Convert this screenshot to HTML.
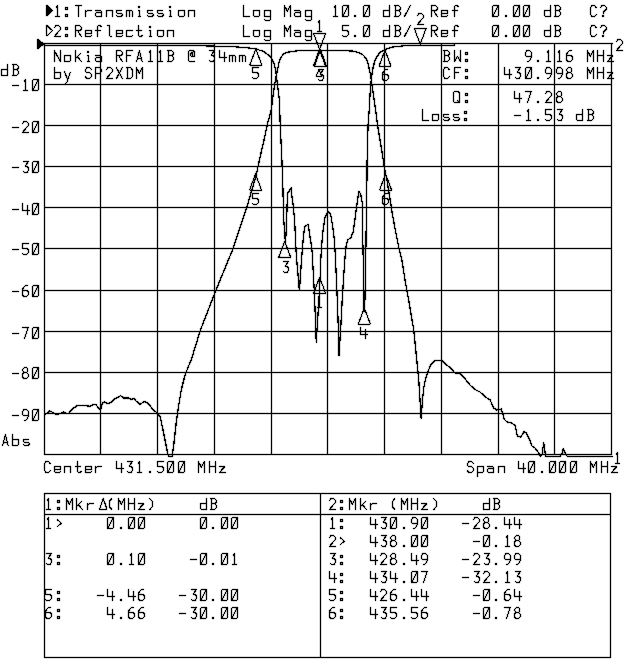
<!DOCTYPE html>
<html><head><meta charset="utf-8"><title>Network analyzer plot</title>
<style>
html,body{margin:0;padding:0;background:#fff;}
body{width:640px;height:659px;overflow:hidden;font-family:"Liberation Mono",monospace;}
svg{display:block;}
.t{fill:none;stroke:#000;stroke-width:1.0;stroke-linecap:square;stroke-linejoin:round;shape-rendering:crispEdges;}
.f{fill:#000;stroke:none;shape-rendering:crispEdges;}
.h{font-family:"Liberation Mono",monospace;font-size:17px;fill:#000;fill-opacity:0;stroke:none;}
</style></head><body>
<svg width="640" height="659" viewBox="0 0 640 659">
<defs><filter id="soft" x="0" y="0" width="640" height="659" filterUnits="userSpaceOnUse" color-interpolation-filters="sRGB"><feConvolveMatrix order="3" kernelMatrix="0.02 0.1 0.02 0.1 1 0.1 0.02 0.1 0.02" divisor="1" bias="-0.48" edgeMode="duplicate" preserveAlpha="true"/></filter></defs>
<g filter="url(#soft)">
<rect x="0" y="0" width="640" height="659" fill="#fff"/>
<g fill="#000" shape-rendering="crispEdges">
<rect x="44" y="43" width="1" height="412"/>
<rect x="100" y="43" width="1" height="412"/>
<rect x="157" y="43" width="1" height="412"/>
<rect x="214" y="43" width="1" height="412"/>
<rect x="271" y="43" width="1" height="412"/>
<rect x="327" y="43" width="1" height="412"/>
<rect x="384" y="43" width="1" height="412"/>
<rect x="441" y="43" width="1" height="412"/>
<rect x="498" y="43" width="1" height="412"/>
<rect x="554" y="43" width="1" height="412"/>
<rect x="611" y="43" width="1" height="412"/>
<rect x="44" y="43" width="568" height="1"/>
<rect x="44" y="84" width="568" height="1"/>
<rect x="44" y="125" width="568" height="1"/>
<rect x="44" y="166" width="568" height="1"/>
<rect x="44" y="207" width="568" height="1"/>
<rect x="44" y="248" width="568" height="1"/>
<rect x="44" y="290" width="568" height="1"/>
<rect x="44" y="331" width="568" height="1"/>
<rect x="44" y="372" width="568" height="1"/>
<rect x="44" y="413" width="568" height="1"/>
<rect x="44" y="454" width="568" height="1"/>
<rect x="44" y="493" width="567" height="1"/>
<rect x="44" y="657" width="567" height="1"/>
<rect x="44" y="514" width="567" height="1"/>
<rect x="44" y="493" width="1" height="165"/>
<rect x="320" y="493" width="1" height="165"/>
<rect x="610" y="493" width="1" height="165"/>
</g>
<path d="M44.5 414.5 L47 413 L49.5 411 L52 412 L55 414 L58.75 414 L61.25 413 L63.75 412 L66.25 413.75 L68.75 413.25 L72.5 408.75 L77.5 405.5 L83.75 405.5 L90 406.25 L93.75 404.5 L96.25 405 L99.5 409.5 L100.75 410 L102.5 402.5 L104.5 402 L107.5 403.75 L110 403 L115 398.75 L120.5 395.75 L123.75 398 L128.75 398 L131.25 399.5 L133.75 398.25 L136.25 401.25 L140 404.5 L144.5 401.25 L147.5 403 L152.5 408.75 L157 413 L160 416.25 L162.5 427.5 L165 440 L167.5 452.5 L168.75 456.5 L172 456.5 L173.75 445 L176.25 422.5 L178.75 405 L181.25 390 L185 375 L190 362.5 L191.25 360 L200 331.25 L215 292.5 L232.5 250 L247.5 205 L256.25 175 L260 157.5 L263.75 141.25 L267.5 123.75 L271.2 110 L273.1 95 L275 82.5 L276.9 72.5 L278.75 63.75 L280.6 58.1 L283.1 54.4 L286.25 52.6 L291.25 51.5 L300 50.55 L340 50.55 L352.5 51 L358.75 52.6 L363.1 55 L366.25 58.75 L368.1 63.75 L370 72.5 L371.25 80 L373.1 92.5 L374.5 102.5 L375.6 110 L377.5 125 L381.25 147.5 L384.4 167.5 L386.9 180 L390 198.75 L392.5 215 L396.25 235 L399.4 250 L401.9 260 L405 280 L409 302 L413.75 330 L416.25 355 L418.75 380 L421.2 418.4 L422.5 400 L423.75 387.5 L425.3 380 L427.5 372.5 L431.25 363.75 L435 360.75 L442.5 360.75 L446.25 364.5 L451.25 368.75 L455 373 L460 373 L465 378.75 L470 385 L475 389.5 L480 392 L486.25 397.6 L490 399.8 L493.75 408 L496.6 410 L501.25 409 L502.5 412.5 L504.4 419.5 L506.6 421.7 L510.9 422.9 L515 425 L517.4 436 L520.8 437 L524 431.6 L526.25 432.7 L529.5 439.2 L531.7 445.8 L535 448 L538.3 452.4 L540.5 456.5 L542 454.5 L543.75 442.5 L545.3 454.5 L546 456.5 L560.2 456.5 L562 453.4 L563.4 448.6 L565.2 453.4 L567.4 456.5 L612 456.5" fill="none" stroke="#000" stroke-width="1.25" stroke-linejoin="round" stroke-linecap="round" shape-rendering="crispEdges"/>
<path d="M44.5 45.5 L180 45.5 L203.4 45.8 L214.4 46.1 L234.7 46.8 L247.2 47.8 L256.6 49 L260 50.4 L263.75 51.25 L267.5 54.4 L271.25 58 L273.75 62.5 L275.6 70 L276.9 80 L278 88.75 L279.4 100 L279.7 110 L280.25 125 L281 141.25 L281.9 160 L282.5 176 L283.1 195 L283.75 220 L285 237 L285.4 243 L286.25 230 L286.9 211.25 L287.5 193.75 L289.4 190.6 L291.25 188 L291.9 196.25 L293.1 205 L294.4 217.5 L295.4 235 L296.25 255 L299.4 290.6 L300.5 275 L301.5 260 L302.5 247 L303.75 233.75 L305 226.25 L308.1 224.4 L309.4 232.5 L311.25 245 L312.2 253 L314.5 295 L316.25 342.5 L318.9 300 L320 280 L320.9 258 L321.9 242.5 L323.1 230 L325 217.5 L328.1 211.25 L330.6 214.4 L332.5 225 L334.4 239.5 L335.3 255 L336.9 290 L338.4 330 L338.9 355.6 L340.6 330 L342.2 300 L343.75 275 L345.2 255 L345.9 247.5 L347.5 240 L350.6 238.1 L353.1 232.5 L355 218.75 L356.9 205 L358.75 191.25 L360.6 193.75 L362.25 202.5 L362.5 223.75 L362.9 245 L363.3 262 L363.8 292 L364.2 311.5 L364.6 311.5 L365.1 292 L365.7 258 L366.1 235 L366.45 205 L366.9 180 L367.25 150 L368.1 125 L369.4 107.5 L370 95 L371.25 80 L372.5 70 L374.4 62.5 L376.25 57.5 L380 52.5 L384.4 50 L391.25 47.2 L404.4 45.7 L412 45.5 L454.4 45.5 L455.2 43.6 L612 43.6" fill="none" stroke="#000" stroke-width="1.25" stroke-linejoin="round" stroke-linecap="round" shape-rendering="crispEdges"/>
<path d="M319.6 49.2 L313.6 33.7 L325.6 33.7 Z" fill="none" stroke="#000" stroke-width="1.0" stroke-linejoin="round" stroke-linecap="round" shape-rendering="crispEdges"/>
<text class="h" x="314.5" y="31.6" textLength="10.3" xml:space="preserve">1</text>
<path class="t" d="M317.93 22.86 L319.82 20.7 L319.82 31.5M317.93 31.5 L321.73 31.5"/>
<path d="M319.5 49.5 L313.5 66 L325.5 66 Z" fill="none" stroke="#000" stroke-width="1.0" stroke-linejoin="round" stroke-linecap="round" shape-rendering="crispEdges"/>
<path d="M320.5 49.5 L314.5 66 L326.5 66 Z" fill="none" stroke="#000" stroke-width="1.0" stroke-linejoin="round" stroke-linecap="round" shape-rendering="crispEdges"/>
<text class="h" x="316.2" y="81" textLength="10.3" xml:space="preserve">3</text>
<path class="t" d="M318.26 69.7 L323.2 69.7 L320.35 74.24 L321.87 74.24 L323.2 75.75 L323.2 78.99 L321.87 80.5 L319.4 80.5 L318.26 79.2"/>
<path d="M316 76.5 L319 69.5 L322 76.5 Z" fill="none" stroke="#000" stroke-width="1.0" stroke-linejoin="round" stroke-linecap="round" shape-rendering="crispEdges"/>
<path d="M255.5 174 L249.5 190 L261.5 190 Z" fill="none" stroke="#000" stroke-width="1.0" stroke-linejoin="round" stroke-linecap="round" shape-rendering="crispEdges"/>
<text class="h" x="251" y="204.8" textLength="10.3" xml:space="preserve">5</text>
<path class="t" d="M258.2 193.7 L252.5 193.7 L252.5 198.24 L256.77 198.24 L258.2 199.86 L258.2 202.88 L256.77 204.5 L253.64 204.5 L252.5 203.42"/>
<path d="M385.6 174 L379.6 190 L391.6 190 Z" fill="none" stroke="#000" stroke-width="1.0" stroke-linejoin="round" stroke-linecap="round" shape-rendering="crispEdges"/>
<text class="h" x="381.1" y="204.8" textLength="10.3" xml:space="preserve">6</text>
<path class="t" d="M387.25 193.7 L385.35 193.7 L383.45 195.32 L382.5 198.02 L382.5 202.88 L383.93 204.5 L386.77 204.5 L388.2 202.88 L388.2 199.64 L386.77 198.02 L382.5 198.02"/>
<path d="M319.6 277.3 L313.6 293.3 L325.6 293.3 Z" fill="none" stroke="#000" stroke-width="1.0" stroke-linejoin="round" stroke-linecap="round" shape-rendering="crispEdges"/>
<text class="h" x="314.5" y="307.6" textLength="10.3" xml:space="preserve">1</text>
<path class="t" d="M317.93 298.86 L319.82 296.7 L319.82 307.5M317.93 307.5 L321.73 307.5"/>
<path d="M420.2 44.2 L414.2 28.2 L426.2 28.2 Z" fill="none" stroke="#000" stroke-width="1.0" stroke-linejoin="round" stroke-linecap="round" shape-rendering="crispEdges"/>
<text class="h" x="415.7" y="25" textLength="10.3" xml:space="preserve">2</text>
<path class="t" d="M417.5 15.32 L418.93 13.7 L421.77 13.7 L423.2 15.32 L423.2 17.48 L417.5 24.5 L423.2 24.5"/>
<path d="M284.7 241.3 L278.7 257.3 L290.7 257.3 Z" fill="none" stroke="#000" stroke-width="1.0" stroke-linejoin="round" stroke-linecap="round" shape-rendering="crispEdges"/>
<text class="h" x="281.1" y="272.7" textLength="10.3" xml:space="preserve">3</text>
<path class="t" d="M283.26 261.7 L288.2 261.7 L285.35 266.24 L286.87 266.24 L288.2 267.75 L288.2 270.99 L286.87 272.5 L284.4 272.5 L283.26 271.2"/>
<path d="M364.3 308 L358.3 324 L370.3 324 Z" fill="none" stroke="#000" stroke-width="1.0" stroke-linejoin="round" stroke-linecap="round" shape-rendering="crispEdges"/>
<text class="h" x="359.5" y="339" textLength="10.3" xml:space="preserve">4</text>
<path class="t" d="M360.5 327.7 L360.5 334.18 L367.72 334.18M365.44 329.64 L365.44 338.5"/>
<path d="M255.8 49 L249.8 65 L261.8 65 Z" fill="none" stroke="#000" stroke-width="1.0" stroke-linejoin="round" stroke-linecap="round" shape-rendering="crispEdges"/>
<text class="h" x="251.1" y="79.4" textLength="10.3" xml:space="preserve">5</text>
<path class="t" d="M258.2 67.7 L252.5 67.7 L252.5 72.24 L256.77 72.24 L258.2 73.86 L258.2 76.88 L256.77 78.5 L253.64 78.5 L252.5 77.42"/>
<path d="M385 50.2 L379 66.2 L391 66.2 Z" fill="none" stroke="#000" stroke-width="1.0" stroke-linejoin="round" stroke-linecap="round" shape-rendering="crispEdges"/>
<text class="h" x="380.7" y="81.5" textLength="10.3" xml:space="preserve">6</text>
<path class="t" d="M387.25 69.7 L385.35 69.7 L383.45 71.32 L382.5 74.02 L382.5 78.88 L383.93 80.5 L386.77 80.5 L388.2 78.88 L388.2 75.64 L386.77 74.02 L382.5 74.02"/>
<text class="h" x="614.5" y="50.7" textLength="10.3" xml:space="preserve">2</text>
<path class="t" d="M616.5 41.32 L617.92 39.7 L620.77 39.7 L622.2 41.32 L622.2 43.48 L616.5 50.5 L622.2 50.5"/>
<text class="h" x="613.3" y="463.9" textLength="10.3" xml:space="preserve">1</text>
<path class="t" d="M615.92 454.86 L617.83 452.7 L617.83 463.5M615.92 463.5 L619.73 463.5"/>
<path d="M37.3 39.2 L37.3 48.8 L44.2 44 Z" fill="#000" stroke="#000" stroke-width="1.0" stroke-linejoin="round" stroke-linecap="round" shape-rendering="crispEdges"/>
<path d="M46.8 5.5 L46.8 15.8 L52.6 10.6 Z" fill="#000" stroke="#000" stroke-width="1.0" stroke-linejoin="round" stroke-linecap="round" shape-rendering="crispEdges"/>
<path d="M46.9 25.4 L46.9 35.8 L52.4 30.6 Z" fill="none" stroke="#000" stroke-width="1.0" stroke-linejoin="round" stroke-linecap="round" shape-rendering="crispEdges"/>
<text class="h" x="53" y="16.5" textLength="144.2" xml:space="preserve">1:Transmission</text>
<path class="t" d="M55.92 7.86 L57.83 5.7 L57.83 16.5M55.92 16.5 L59.73 16.5M65.02 16.99 L67.21 16.99 L67.21 14.72 L65.02 14.72 L65.02 16.99M65.02 9.86 L67.21 9.86 L67.21 7.59 L65.02 7.59 L65.02 9.86M75.5 5.7 L81.2 5.7M78.35 5.7 L78.35 16.5M85.5 10.02 L85.5 16.5M85.5 12.83 L86.83 10.99 L88.35 10.02 L90.25 10.02 L91.2 10.88M95.97 10.02 L100.25 10.02 L101.2 11.1 L101.2 16.5M101.2 12.72 L96.45 12.72 L95.5 13.69 L95.5 15.53 L96.45 16.5 L101.2 16.5M106.5 16.5 L106.5 10.02M106.5 10.78 L107.17 10.02 L111.53 10.02 L112.2 10.78 L112.2 16.5M122.2 11.1 L121.25 10.02 L117.45 10.02 L116.5 11.1 L116.5 12.18 L117.45 13.26 L121.25 13.26 L122.2 14.34 L122.2 15.42 L121.25 16.5 L117.45 16.5 L116.5 15.42M126.5 16.5 L126.5 10.02M126.5 11.1 L127.45 10.02 L128.4 10.02 L129.35 11.1 L129.35 16.5M129.35 11.1 L130.3 10.02 L131.25 10.02 L132.2 11.1 L132.2 16.5M138.21 10.02 L139.35 10.02 L139.35 16.5M138.21 16.5 L140.49 16.5M153.2 11.1 L152.25 10.02 L148.45 10.02 L147.5 11.1 L147.5 12.18 L148.45 13.26 L152.25 13.26 L153.2 14.34 L153.2 15.42 L152.25 16.5 L148.45 16.5 L147.5 15.42M163.2 11.1 L162.25 10.02 L158.45 10.02 L157.5 11.1 L157.5 12.18 L158.45 13.26 L162.25 13.26 L163.2 14.34 L163.2 15.42 L162.25 16.5 L158.45 16.5 L157.5 15.42M169.21 10.02 L170.35 10.02 L170.35 16.5M169.21 16.5 L171.49 16.5M179.16 16.5 L178.5 15.74 L178.5 10.78 L179.16 10.02 L183.53 10.02 L184.2 10.78 L184.2 15.74 L183.53 16.5 L179.16 16.5M188.5 16.5 L188.5 10.02M188.5 10.78 L189.16 10.02 L193.53 10.02 L194.2 10.78 L194.2 16.5"/>
<path class="f" d="M138.45 6.2h1.8v1.8h-1.8zM169.45 6.2h1.8v1.8h-1.8z"/>
<text class="h" x="53" y="36.5" textLength="123.6" xml:space="preserve">2:Reflection</text>
<path class="t" d="M54.5 27.32 L55.92 25.7 L58.77 25.7 L60.2 27.32 L60.2 29.48 L54.5 36.5 L60.2 36.5M65.02 36.99 L67.21 36.99 L67.21 34.72 L65.02 34.72 L65.02 36.99M65.02 29.86 L67.21 29.86 L67.21 27.59 L65.02 27.59 L65.02 29.86M75.5 36.5 L75.5 25.7 L79.78 25.7 L81.2 27.1 L81.2 29.48 L79.78 30.88 L75.5 30.88M77.88 30.88 L81.2 36.5M85.5 33.26 L91.2 33.26 L91.2 30.78 L90.53 30.02 L86.17 30.02 L85.5 30.78 L85.5 35.74 L86.17 36.5 L90.53 36.5 L91.2 35.42M101.2 26.78 L100.25 25.7 L98.54 25.7 L97.59 26.78 L97.59 36.5M95.5 30.02 L100.25 30.02M107.92 25.7 L109.35 25.7 L109.35 35.42 L110.3 36.5 L111.25 36.5M116.5 33.26 L122.2 33.26 L122.2 30.78 L121.53 30.02 L117.17 30.02 L116.5 30.78 L116.5 35.74 L117.17 36.5 L121.53 36.5 L122.2 35.42M132.2 30.78 L131.53 30.02 L127.17 30.02 L126.5 30.78 L126.5 35.74 L127.17 36.5 L131.53 36.5 L132.2 35.74M138.59 25.7 L138.59 35.42 L139.54 36.5 L141.25 36.5 L142.2 35.42M136.5 30.02 L141.25 30.02M149.21 30.02 L150.35 30.02 L150.35 36.5M149.21 36.5 L151.49 36.5M158.16 36.5 L157.5 35.74 L157.5 30.78 L158.16 30.02 L162.53 30.02 L163.2 30.78 L163.2 35.74 L162.53 36.5 L158.16 36.5M167.5 36.5 L167.5 30.02M167.5 30.78 L168.16 30.02 L172.53 30.02 L173.2 30.78 L173.2 36.5"/>
<path class="f" d="M149.45 26.2h1.8v1.8h-1.8z"/>
<text class="h" x="242" y="16.5" textLength="72.1" xml:space="preserve">Log Mag</text>
<path class="t" d="M243.5 5.7 L243.5 16.5 L249.2 16.5M254.16 16.5 L253.5 15.74 L253.5 10.78 L254.16 10.02 L258.54 10.02 L259.2 10.78 L259.2 15.74 L258.54 16.5 L254.16 16.5M270.2 10.02 L270.2 19.31 L269.54 20.6 L265.17 20.6 L264.5 19.52M270.2 10.02 L265.17 10.02 L264.5 10.78 L264.5 15.74 L265.17 16.5 L270.2 16.5M284.5 16.5 L284.5 5.7 L287.35 11.1 L290.2 5.7 L290.2 16.5M294.98 10.02 L299.25 10.02 L300.2 11.1 L300.2 16.5M300.2 12.72 L295.45 12.72 L294.5 13.69 L294.5 15.53 L295.45 16.5 L300.2 16.5M311.2 10.02 L311.2 19.31 L310.54 20.6 L306.17 20.6 L305.5 19.52M311.2 10.02 L306.17 10.02 L305.5 10.78 L305.5 15.74 L306.17 16.5 L311.2 16.5"/>
<text class="h" x="242" y="36.5" textLength="72.1" xml:space="preserve">Log Mag</text>
<path class="t" d="M243.5 25.7 L243.5 36.5 L249.2 36.5M254.16 36.5 L253.5 35.74 L253.5 30.78 L254.16 30.02 L258.54 30.02 L259.2 30.78 L259.2 35.74 L258.54 36.5 L254.16 36.5M270.2 30.02 L270.2 39.31 L269.54 40.6 L265.17 40.6 L264.5 39.52M270.2 30.02 L265.17 30.02 L264.5 30.78 L264.5 35.74 L265.17 36.5 L270.2 36.5M284.5 36.5 L284.5 25.7 L287.35 31.1 L290.2 25.7 L290.2 36.5M294.98 30.02 L299.25 30.02 L300.2 31.1 L300.2 36.5M300.2 32.72 L295.45 32.72 L294.5 33.69 L294.5 35.53 L295.45 36.5 L300.2 36.5M311.2 30.02 L311.2 39.31 L310.54 40.6 L306.17 40.6 L305.5 39.52M311.2 30.02 L306.17 30.02 L305.5 30.78 L305.5 35.74 L306.17 36.5 L311.2 36.5"/>
<text class="h" x="330.8" y="16.5" textLength="82.4" xml:space="preserve">10.0 dB/</text>
<path class="t" d="M333.93 7.86 L335.82 5.7 L335.82 16.5M333.93 16.5 L337.73 16.5M343.26 16.5 L342.5 15.64 L342.5 6.56 L343.26 5.7 L347.44 5.7 L348.2 6.56 L348.2 15.64 L347.44 16.5 L343.26 16.5M342.6 16.61 L348.11 5.59M364.26 16.5 L363.5 15.64 L363.5 6.56 L364.26 5.7 L368.44 5.7 L369.2 6.56 L369.2 15.64 L368.44 16.5 L364.26 16.5M363.6 16.61 L369.11 5.59M389.2 5.7 L389.2 16.5M389.2 10.02 L384.17 10.02 L383.5 10.78 L383.5 15.74 L384.17 16.5 L389.2 16.5M394.5 5.7 L398.77 5.7 L400.2 7.1 L400.2 9.48 L398.77 10.88 L395.45 10.88M398.77 10.88 L400.2 12.4 L400.2 14.99 L398.77 16.5 L394.5 16.5M395.45 16.5 L395.45 5.7M404.5 16.5 L410.2 5.7"/>
<path class="f" d="M354.35 14.96h2v2h-2z"/>
<text class="h" x="330.8" y="36.5" textLength="82.4" xml:space="preserve"> 5.0 dB/</text>
<path class="t" d="M348.2 25.7 L342.5 25.7 L342.5 30.24 L346.77 30.24 L348.2 31.86 L348.2 34.88 L346.77 36.5 L343.64 36.5 L342.5 35.42M364.26 36.5 L363.5 35.64 L363.5 26.56 L364.26 25.7 L368.44 25.7 L369.2 26.56 L369.2 35.64 L368.44 36.5 L364.26 36.5M363.6 36.61 L369.11 25.59M389.2 25.7 L389.2 36.5M389.2 30.02 L384.17 30.02 L383.5 30.78 L383.5 35.74 L384.17 36.5 L389.2 36.5M394.5 25.7 L398.77 25.7 L400.2 27.1 L400.2 29.48 L398.77 30.88 L395.45 30.88M398.77 30.88 L400.2 32.4 L400.2 34.99 L398.77 36.5 L394.5 36.5M395.45 36.5 L395.45 25.7M404.5 36.5 L410.2 25.7"/>
<path class="f" d="M354.35 34.96h2v2h-2z"/>
<text class="h" x="430" y="16.5" textLength="30.9" xml:space="preserve">Ref</text>
<path class="t" d="M431.5 16.5 L431.5 5.7 L435.77 5.7 L437.2 7.1 L437.2 9.48 L435.77 10.88 L431.5 10.88M433.88 10.88 L437.2 16.5M441.5 13.26 L447.2 13.26 L447.2 10.78 L446.54 10.02 L442.17 10.02 L441.5 10.78 L441.5 15.74 L442.17 16.5 L446.54 16.5 L447.2 15.42M458.2 6.78 L457.25 5.7 L455.54 5.7 L454.59 6.78 L454.59 16.5M452.5 10.02 L457.25 10.02"/>
<text class="h" x="430" y="36.5" textLength="30.9" xml:space="preserve">Ref</text>
<path class="t" d="M431.5 36.5 L431.5 25.7 L435.77 25.7 L437.2 27.1 L437.2 29.48 L435.77 30.88 L431.5 30.88M433.88 30.88 L437.2 36.5M441.5 33.26 L447.2 33.26 L447.2 30.78 L446.54 30.02 L442.17 30.02 L441.5 30.78 L441.5 35.74 L442.17 36.5 L446.54 36.5 L447.2 35.42M458.2 26.78 L457.25 25.7 L455.54 25.7 L454.59 26.78 L454.59 36.5M452.5 30.02 L457.25 30.02"/>
<text class="h" x="491.5" y="16.5" textLength="72.1" xml:space="preserve">0.00 dB</text>
<path class="t" d="M493.26 16.5 L492.5 15.64 L492.5 6.56 L493.26 5.7 L497.44 5.7 L498.2 6.56 L498.2 15.64 L497.44 16.5 L493.26 16.5M492.6 16.61 L498.11 5.59M514.26 16.5 L513.5 15.64 L513.5 6.56 L514.26 5.7 L518.44 5.7 L519.2 6.56 L519.2 15.64 L518.44 16.5 L514.26 16.5M513.6 16.61 L519.11 5.59M524.26 16.5 L523.5 15.64 L523.5 6.56 L524.26 5.7 L528.44 5.7 L529.2 6.56 L529.2 15.64 L528.44 16.5 L524.26 16.5M523.6 16.61 L529.11 5.59M550.2 5.7 L550.2 16.5M550.2 10.02 L545.16 10.02 L544.5 10.78 L544.5 15.74 L545.16 16.5 L550.2 16.5M554.5 5.7 L558.77 5.7 L560.2 7.1 L560.2 9.48 L558.77 10.88 L555.45 10.88M558.77 10.88 L560.2 12.4 L560.2 14.99 L558.77 16.5 L554.5 16.5M555.45 16.5 L555.45 5.7"/>
<path class="f" d="M505.35 14.96h2v2h-2z"/>
<text class="h" x="491.5" y="36.5" textLength="72.1" xml:space="preserve">0.00 dB</text>
<path class="t" d="M493.26 36.5 L492.5 35.64 L492.5 26.56 L493.26 25.7 L497.44 25.7 L498.2 26.56 L498.2 35.64 L497.44 36.5 L493.26 36.5M492.6 36.61 L498.11 25.59M514.26 36.5 L513.5 35.64 L513.5 26.56 L514.26 25.7 L518.44 25.7 L519.2 26.56 L519.2 35.64 L518.44 36.5 L514.26 36.5M513.6 36.61 L519.11 25.59M524.26 36.5 L523.5 35.64 L523.5 26.56 L524.26 25.7 L528.44 25.7 L529.2 26.56 L529.2 35.64 L528.44 36.5 L524.26 36.5M523.6 36.61 L529.11 25.59M550.2 25.7 L550.2 36.5M550.2 30.02 L545.16 30.02 L544.5 30.78 L544.5 35.74 L545.16 36.5 L550.2 36.5M554.5 25.7 L558.77 25.7 L560.2 27.1 L560.2 29.48 L558.77 30.88 L555.45 30.88M558.77 30.88 L560.2 32.4 L560.2 34.99 L558.77 36.5 L554.5 36.5M555.45 36.5 L555.45 25.7"/>
<path class="f" d="M505.35 34.96h2v2h-2z"/>
<text class="h" x="589" y="16.5" textLength="20.6" xml:space="preserve">C?</text>
<path class="t" d="M596.2 7.64 L594.77 5.7 L591.92 5.7 L590.5 7.64 L590.5 14.56 L591.92 16.5 L594.77 16.5 L596.2 14.56M600.5 7.32 L601.92 5.7 L604.77 5.7 L606.2 7.32 L606.2 9.48 L603.35 12.18 L603.35 13.48"/>
<path class="f" d="M602.45 15.06h1.8v1.8h-1.8z"/>
<text class="h" x="589" y="36.5" textLength="20.6" xml:space="preserve">C?</text>
<path class="t" d="M596.2 27.64 L594.77 25.7 L591.92 25.7 L590.5 27.64 L590.5 34.56 L591.92 36.5 L594.77 36.5 L596.2 34.56M600.5 27.32 L601.92 25.7 L604.77 25.7 L606.2 27.32 L606.2 29.48 L603.35 32.18 L603.35 33.48"/>
<path class="f" d="M602.45 35.06h1.8v1.8h-1.8z"/>
<text class="h" x="53.2" y="61.8" textLength="195.32" xml:space="preserve">Nokia RFA11B @ 34mm</text>
<path class="t" d="M54.5 61.5 L54.5 50.7 L60.2 61.5 L60.2 50.7M65.17 61.5 L64.5 60.74 L64.5 55.78 L65.17 55.02 L69.53 55.02 L70.2 55.78 L70.2 60.74 L69.53 61.5 L65.17 61.5M75.5 50.7 L75.5 61.5M80.25 53.94 L75.5 58.26M77.4 56.53 L81.2 61.5M87.21 55.02 L88.35 55.02 L88.35 61.5M87.21 61.5 L89.49 61.5M95.97 55.02 L100.25 55.02 L101.2 56.1 L101.2 61.5M101.2 57.72 L96.45 57.72 L95.5 58.69 L95.5 60.53 L96.45 61.5 L101.2 61.5M116.5 61.5 L116.5 50.7 L120.78 50.7 L122.2 52.1 L122.2 54.48 L120.78 55.88 L116.5 55.88M118.88 55.88 L122.2 61.5M132.2 50.7 L126.5 50.7 L126.5 61.5M126.5 55.88 L130.78 55.88M136.5 61.5 L139.35 50.7 L142.2 61.5M137.45 58.26 L141.25 58.26M148.93 52.86 L150.82 50.7 L150.82 61.5M148.93 61.5 L152.72 61.5M158.93 52.86 L160.82 50.7 L160.82 61.5M158.93 61.5 L162.72 61.5M167.5 50.7 L171.78 50.7 L173.2 52.1 L173.2 54.48 L171.78 55.88 L168.45 55.88M171.78 55.88 L173.2 57.4 L173.2 59.99 L171.78 61.5 L167.5 61.5M168.45 61.5 L168.45 50.7M194.2 61.5 L189.26 61.5 L188.5 60.64 L188.5 51.56 L189.26 50.7 L193.44 50.7 L194.2 51.56 L194.2 56.32 L191.54 56.32 L190.78 55.45 L190.78 53.72 L191.54 52.86 L192.68 52.86 L192.68 56.32M209.26 50.7 L214.2 50.7 L211.35 55.24 L212.87 55.24 L214.2 56.75 L214.2 59.99 L212.87 61.5 L210.4 61.5 L209.26 60.2M219.5 50.7 L219.5 57.18 L226.72 57.18M224.44 52.64 L224.44 61.5M229.5 61.5 L229.5 55.02M229.5 56.1 L230.45 55.02 L231.4 55.02 L232.35 56.1 L232.35 61.5M232.35 56.1 L233.3 55.02 L234.25 55.02 L235.2 56.1 L235.2 61.5M239.5 61.5 L239.5 55.02M239.5 56.1 L240.45 55.02 L241.4 55.02 L242.35 56.1 L242.35 61.5M242.35 56.1 L243.3 55.02 L244.25 55.02 L245.2 56.1 L245.2 61.5"/>
<path class="f" d="M87.45 51.2h1.8v1.8h-1.8z"/>
<text class="h" x="53.2" y="79.4" textLength="92.52" xml:space="preserve">by SP2XDM</text>
<path class="t" d="M54.5 67.7 L54.5 78.5M54.5 72.02 L59.53 72.02 L60.2 72.78 L60.2 77.74 L59.53 78.5 L54.5 78.5M64.5 72.02 L67.35 78.5M70.2 72.02 L66.78 82.6 L65.64 83.04M91.2 69.32 L89.78 67.7 L86.92 67.7 L85.5 69.32 L85.5 71.26 L86.92 72.88 L89.78 72.88 L91.2 74.5 L91.2 76.88 L89.78 78.5 L86.92 78.5 L85.5 76.88M95.5 78.5 L95.5 67.7 L99.78 67.7 L101.2 69.1 L101.2 71.7 L99.78 73.1 L95.5 73.1M106.5 69.32 L107.92 67.7 L110.78 67.7 L112.2 69.32 L112.2 71.48 L106.5 78.5 L112.2 78.5M116.5 78.5 L122.2 67.7M116.5 67.7 L122.2 78.5M126.5 67.7 L130.78 67.7 L132.2 69.64 L132.2 76.56 L130.78 78.5 L126.5 78.5M127.45 78.5 L127.45 67.7M136.5 78.5 L136.5 67.7 L139.35 73.1 L142.2 67.7 L142.2 78.5"/>
<text class="h" x="442.4" y="61.8" textLength="30.9" xml:space="preserve">BW:</text>
<path class="t" d="M443.5 50.7 L447.77 50.7 L449.2 52.1 L449.2 54.48 L447.77 55.88 L444.45 55.88M447.77 55.88 L449.2 57.4 L449.2 59.99 L447.77 61.5 L443.5 61.5M444.45 61.5 L444.45 50.7M454.5 50.7 L454.5 61.5 L457.35 56.1 L460.2 61.5 L460.2 50.7M465.02 61.99 L467.21 61.99 L467.21 59.72 L465.02 59.72 L465.02 61.99M465.02 54.86 L467.21 54.86 L467.21 52.59 L465.02 52.59 L465.02 54.86"/>
<text class="h" x="503.2" y="61.8" textLength="113.3" xml:space="preserve">  9.116 MHz</text>
<path class="t" d="M531.2 55.56 L529.77 56.96 L526.92 56.96 L525.5 55.34 L525.5 52.32 L526.92 50.7 L529.77 50.7 L531.2 52.32 L531.2 57.18 L530.25 59.88 L528.83 61.5 L527.88 61.5M546.92 52.86 L548.83 50.7 L548.83 61.5M546.92 61.5 L550.73 61.5M557.92 52.86 L559.83 50.7 L559.83 61.5M557.92 61.5 L561.73 61.5M571.25 50.7 L569.35 50.7 L567.45 52.32 L566.5 55.02 L566.5 59.88 L567.92 61.5 L570.77 61.5 L572.2 59.88 L572.2 56.64 L570.77 55.02 L566.5 55.02M587.5 61.5 L587.5 50.7 L590.35 56.1 L593.2 50.7 L593.2 61.5M597.5 61.5 L597.5 50.7M603.2 61.5 L603.2 50.7M597.5 55.88 L603.2 55.88M607.5 55.02 L613.2 55.02 L607.5 61.5 L613.2 61.5"/>
<path class="f" d="M537.35 59.96h2v2h-2z"/>
<text class="h" x="442.4" y="79.4" textLength="30.9" xml:space="preserve">CF:</text>
<path class="t" d="M449.2 69.64 L447.77 67.7 L444.93 67.7 L443.5 69.64 L443.5 76.56 L444.93 78.5 L447.77 78.5 L449.2 76.56M460.2 67.7 L454.5 67.7 L454.5 78.5M454.5 72.88 L458.77 72.88M465.02 78.99 L467.21 78.99 L467.21 76.72 L465.02 76.72 L465.02 78.99M465.02 71.86 L467.21 71.86 L467.21 69.59 L465.02 69.59 L465.02 71.86"/>
<text class="h" x="503.2" y="79.4" textLength="113.3" xml:space="preserve">430.998 MHz</text>
<path class="t" d="M504.5 67.7 L504.5 74.18 L511.72 74.18M509.44 69.64 L509.44 78.5M515.26 67.7 L520.2 67.7 L517.35 72.24 L518.87 72.24 L520.2 73.75 L520.2 76.99 L518.87 78.5 L516.4 78.5 L515.26 77.2M526.26 78.5 L525.5 77.64 L525.5 68.56 L526.26 67.7 L530.44 67.7 L531.2 68.56 L531.2 77.64 L530.44 78.5 L526.26 78.5M525.6 78.61 L531.11 67.59M551.2 72.56 L549.77 73.96 L546.92 73.96 L545.5 72.34 L545.5 69.32 L546.92 67.7 L549.77 67.7 L551.2 69.32 L551.2 74.18 L550.25 76.88 L548.83 78.5 L547.88 78.5M562.2 72.56 L560.77 73.96 L557.92 73.96 L556.5 72.34 L556.5 69.32 L557.92 67.7 L560.77 67.7 L562.2 69.32 L562.2 74.18 L561.25 76.88 L559.83 78.5 L558.88 78.5M568.12 72.56 L566.98 71.16 L566.98 69.1 L568.12 67.7 L570.59 67.7 L571.73 69.1 L571.73 71.16 L570.59 72.56 L568.12 72.56 L566.5 74.18 L566.5 76.88 L567.92 78.5 L570.77 78.5 L572.2 76.88 L572.2 74.18 L570.59 72.56M587.5 78.5 L587.5 67.7 L590.35 73.1 L593.2 67.7 L593.2 78.5M597.5 78.5 L597.5 67.7M603.2 78.5 L603.2 67.7M597.5 72.88 L603.2 72.88M607.5 72.02 L613.2 72.02 L607.5 78.5 L613.2 78.5"/>
<path class="f" d="M537.35 76.96h2v2h-2z"/>
<text class="h" x="452.2" y="102.8" textLength="20.6" xml:space="preserve">Q:</text>
<path class="t" d="M454.45 102.5 L453.5 101.42 L453.5 92.78 L454.45 91.7 L458.25 91.7 L459.2 92.78 L459.2 101.42 L458.25 102.5 L454.45 102.5M457.49 100.56 L459.2 102.5M465.02 102.99 L467.21 102.99 L467.21 100.72 L465.02 100.72 L465.02 102.99M465.02 95.86 L467.21 95.86 L467.21 93.59 L465.02 93.59 L465.02 95.86"/>
<text class="h" x="503.2" y="102.8" textLength="61.8" xml:space="preserve"> 47.28</text>
<path class="t" d="M514.5 91.7 L514.5 98.18 L521.72 98.18M519.44 93.64 L519.44 102.5M525.5 91.7 L531.2 91.7 L527.4 102.5M545.5 93.32 L546.92 91.7 L549.77 91.7 L551.2 93.32 L551.2 95.48 L545.5 102.5 L551.2 102.5M558.12 96.56 L556.98 95.16 L556.98 93.1 L558.12 91.7 L560.59 91.7 L561.73 93.1 L561.73 95.16 L560.59 96.56 L558.12 96.56 L556.5 98.18 L556.5 100.88 L557.92 102.5 L560.77 102.5 L562.2 100.88 L562.2 98.18 L560.59 96.56"/>
<path class="f" d="M537.35 100.96h2v2h-2z"/>
<text class="h" x="421" y="121" textLength="51.5" xml:space="preserve">Loss:</text>
<path class="t" d="M422.5 109.7 L422.5 120.5 L428.2 120.5M433.17 120.5 L432.5 119.74 L432.5 114.78 L433.17 114.02 L437.54 114.02 L438.2 114.78 L438.2 119.74 L437.54 120.5 L433.17 120.5M449.2 115.1 L448.25 114.02 L444.45 114.02 L443.5 115.1 L443.5 116.18 L444.45 117.26 L448.25 117.26 L449.2 118.34 L449.2 119.42 L448.25 120.5 L444.45 120.5 L443.5 119.42M459.2 115.1 L458.25 114.02 L454.45 114.02 L453.5 115.1 L453.5 116.18 L454.45 117.26 L458.25 117.26 L459.2 118.34 L459.2 119.42 L458.25 120.5 L454.45 120.5 L453.5 119.42M464.02 120.99 L466.21 120.99 L466.21 118.72 L464.02 118.72 L464.02 120.99M464.02 113.86 L466.21 113.86 L466.21 111.59 L464.02 111.59 L464.02 113.86"/>
<text class="h" x="503.2" y="121" textLength="92.7" xml:space="preserve"> -1.53 dB</text>
<path class="t" d="M514.5 115.1 L520.39 115.1M526.92 111.86 L528.83 109.7 L528.83 120.5M526.92 120.5 L530.73 120.5M551.2 109.7 L545.5 109.7 L545.5 114.24 L549.77 114.24 L551.2 115.86 L551.2 118.88 L549.77 120.5 L546.64 120.5 L545.5 119.42M557.26 109.7 L562.2 109.7 L559.35 114.24 L560.87 114.24 L562.2 115.75 L562.2 118.99 L560.87 120.5 L558.4 120.5 L557.26 119.2M582.2 109.7 L582.2 120.5M582.2 114.02 L577.16 114.02 L576.5 114.78 L576.5 119.74 L577.16 120.5 L582.2 120.5M587.5 109.7 L591.77 109.7 L593.2 111.1 L593.2 113.48 L591.77 114.88 L588.45 114.88M591.77 114.88 L593.2 116.4 L593.2 118.99 L591.77 120.5 L587.5 120.5M588.45 120.5 L588.45 109.7"/>
<path class="f" d="M537.35 118.96h2v2h-2z"/>
<text class="h" x="0.3" y="76.2" textLength="20.6" xml:space="preserve">dB</text>
<path class="t" d="M7.2 64.7 L7.2 75.5M7.2 69.02 L2.17 69.02 L1.5 69.78 L1.5 74.74 L2.17 75.5 L7.2 75.5M12.5 64.7 L16.77 64.7 L18.2 66.1 L18.2 68.48 L16.77 69.88 L13.45 69.88M16.77 69.88 L18.2 71.4 L18.2 73.99 L16.77 75.5 L12.5 75.5M13.45 75.5 L13.45 64.7"/>
<text class="h" x="10.6" y="91.5" textLength="30.9" xml:space="preserve">-10</text>
<path class="t" d="M12.5 85.1 L18.39 85.1M23.93 81.86 L25.82 79.7 L25.82 90.5M23.93 90.5 L27.73 90.5M33.26 90.5 L32.5 89.64 L32.5 80.56 L33.26 79.7 L37.44 79.7 L38.2 80.56 L38.2 89.64 L37.44 90.5 L33.26 90.5M32.59 90.61 L38.11 79.59"/>
<text class="h" x="10.6" y="132.5" textLength="30.9" xml:space="preserve">-20</text>
<path class="t" d="M12.5 127.1 L18.39 127.1M22.5 123.32 L23.93 121.7 L26.77 121.7 L28.2 123.32 L28.2 125.48 L22.5 132.5 L28.2 132.5M33.26 132.5 L32.5 131.64 L32.5 122.56 L33.26 121.7 L37.44 121.7 L38.2 122.56 L38.2 131.64 L37.44 132.5 L33.26 132.5M32.59 132.61 L38.11 121.59"/>
<text class="h" x="10.6" y="173.5" textLength="30.9" xml:space="preserve">-30</text>
<path class="t" d="M12.5 167.1 L18.39 167.1M23.26 161.7 L28.2 161.7 L25.35 166.24 L26.87 166.24 L28.2 167.75 L28.2 170.99 L26.87 172.5 L24.4 172.5 L23.26 171.2M33.26 172.5 L32.5 171.64 L32.5 162.56 L33.26 161.7 L37.44 161.7 L38.2 162.56 L38.2 171.64 L37.44 172.5 L33.26 172.5M32.59 172.61 L38.11 161.59"/>
<text class="h" x="10.6" y="214.5" textLength="30.9" xml:space="preserve">-40</text>
<path class="t" d="M12.5 209.1 L18.39 209.1M22.5 203.7 L22.5 210.18 L29.72 210.18M27.44 205.64 L27.44 214.5M33.26 214.5 L32.5 213.64 L32.5 204.56 L33.26 203.7 L37.44 203.7 L38.2 204.56 L38.2 213.64 L37.44 214.5 L33.26 214.5M32.59 214.61 L38.11 203.59"/>
<text class="h" x="10.6" y="255.5" textLength="30.9" xml:space="preserve">-50</text>
<path class="t" d="M12.5 249.1 L18.39 249.1M28.2 243.7 L22.5 243.7 L22.5 248.24 L26.77 248.24 L28.2 249.86 L28.2 252.88 L26.77 254.5 L23.64 254.5 L22.5 253.42M33.26 254.5 L32.5 253.64 L32.5 244.56 L33.26 243.7 L37.44 243.7 L38.2 244.56 L38.2 253.64 L37.44 254.5 L33.26 254.5M32.59 254.61 L38.11 243.59"/>
<text class="h" x="10.6" y="297.5" textLength="30.9" xml:space="preserve">-60</text>
<path class="t" d="M12.5 291.1 L18.39 291.1M27.25 285.7 L25.35 285.7 L23.45 287.32 L22.5 290.02 L22.5 294.88 L23.93 296.5 L26.77 296.5 L28.2 294.88 L28.2 291.64 L26.77 290.02 L22.5 290.02M33.26 296.5 L32.5 295.64 L32.5 286.56 L33.26 285.7 L37.44 285.7 L38.2 286.56 L38.2 295.64 L37.44 296.5 L33.26 296.5M32.59 296.61 L38.11 285.59"/>
<text class="h" x="10.6" y="338.5" textLength="30.9" xml:space="preserve">-70</text>
<path class="t" d="M12.5 333.1 L18.39 333.1M22.5 327.7 L28.2 327.7 L24.4 338.5M33.26 338.5 L32.5 337.64 L32.5 328.56 L33.26 327.7 L37.44 327.7 L38.2 328.56 L38.2 337.64 L37.44 338.5 L33.26 338.5M32.59 338.61 L38.11 327.59"/>
<text class="h" x="10.6" y="379.5" textLength="30.9" xml:space="preserve">-80</text>
<path class="t" d="M12.5 373.1 L18.39 373.1M24.11 372.56 L22.98 371.16 L22.98 369.1 L24.11 367.7 L26.59 367.7 L27.73 369.1 L27.73 371.16 L26.59 372.56 L24.11 372.56 L22.5 374.18 L22.5 376.88 L23.93 378.5 L26.77 378.5 L28.2 376.88 L28.2 374.18 L26.59 372.56M33.26 378.5 L32.5 377.64 L32.5 368.56 L33.26 367.7 L37.44 367.7 L38.2 368.56 L38.2 377.64 L37.44 378.5 L33.26 378.5M32.59 378.61 L38.11 367.59"/>
<text class="h" x="10.6" y="420.5" textLength="30.9" xml:space="preserve">-90</text>
<path class="t" d="M12.5 415.1 L18.39 415.1M28.2 414.56 L26.77 415.96 L23.93 415.96 L22.5 414.34 L22.5 411.32 L23.93 409.7 L26.77 409.7 L28.2 411.32 L28.2 416.18 L27.25 418.88 L25.82 420.5 L24.88 420.5M33.26 420.5 L32.5 419.64 L32.5 410.56 L33.26 409.7 L37.44 409.7 L38.2 410.56 L38.2 419.64 L37.44 420.5 L33.26 420.5M32.59 420.61 L38.11 409.59"/>
<text class="h" x="1" y="445.6" textLength="30.9" xml:space="preserve">Abs</text>
<path class="t" d="M2.5 445.5 L5.35 434.7 L8.2 445.5M3.45 442.26 L7.25 442.26M12.5 434.7 L12.5 445.5M12.5 439.02 L17.54 439.02 L18.2 439.78 L18.2 444.74 L17.54 445.5 L12.5 445.5M29.2 440.1 L28.25 439.02 L24.45 439.02 L23.5 440.1 L23.5 441.18 L24.45 442.26 L28.25 442.26 L29.2 443.34 L29.2 444.42 L28.25 445.5 L24.45 445.5 L23.5 444.42"/>
<text class="h" x="42.8" y="473.2" textLength="185.4" xml:space="preserve">Center 431.500 MHz</text>
<path class="t" d="M50.2 463.64 L48.77 461.7 L45.92 461.7 L44.5 463.64 L44.5 470.56 L45.92 472.5 L48.77 472.5 L50.2 470.56M54.5 469.26 L60.2 469.26 L60.2 466.78 L59.53 466.02 L55.16 466.02 L54.5 466.78 L54.5 471.74 L55.16 472.5 L59.53 472.5 L60.2 471.42M64.5 472.5 L64.5 466.02M64.5 466.78 L65.17 466.02 L69.53 466.02 L70.2 466.78 L70.2 472.5M77.59 461.7 L77.59 471.42 L78.54 472.5 L80.25 472.5 L81.2 471.42M75.5 466.02 L80.25 466.02M85.5 469.26 L91.2 469.26 L91.2 466.78 L90.53 466.02 L86.17 466.02 L85.5 466.78 L85.5 471.74 L86.17 472.5 L90.53 472.5 L91.2 471.42M95.5 466.02 L95.5 472.5M95.5 468.83 L96.83 466.99 L98.35 466.02 L100.25 466.02 L101.2 466.88M116.5 461.7 L116.5 468.18 L123.72 468.18M121.44 463.64 L121.44 472.5M127.26 461.7 L132.2 461.7 L129.35 466.24 L130.87 466.24 L132.2 467.75 L132.2 470.99 L130.87 472.5 L128.4 472.5 L127.26 471.2M137.93 463.86 L139.82 461.7 L139.82 472.5M137.93 472.5 L141.72 472.5M163.2 461.7 L157.5 461.7 L157.5 466.24 L161.78 466.24 L163.2 467.86 L163.2 470.88 L161.78 472.5 L158.64 472.5 L157.5 471.42M168.26 472.5 L167.5 471.64 L167.5 462.56 L168.26 461.7 L172.44 461.7 L173.2 462.56 L173.2 471.64 L172.44 472.5 L168.26 472.5M167.59 472.61 L173.1 461.59M179.26 472.5 L178.5 471.64 L178.5 462.56 L179.26 461.7 L183.44 461.7 L184.2 462.56 L184.2 471.64 L183.44 472.5 L179.26 472.5M178.59 472.61 L184.1 461.59M198.5 472.5 L198.5 461.7 L201.35 467.1 L204.2 461.7 L204.2 472.5M209.5 472.5 L209.5 461.7M215.2 472.5 L215.2 461.7M209.5 466.88 L215.2 466.88M219.5 466.02 L225.2 466.02 L219.5 472.5 L225.2 472.5"/>
<path class="f" d="M149.35 470.96h2v2h-2z"/>
<text class="h" x="465.7" y="473.4" textLength="154.5" xml:space="preserve">Span 40.000 MHz</text>
<path class="t" d="M473.2 463.32 L471.77 461.7 L468.93 461.7 L467.5 463.32 L467.5 465.26 L468.93 466.88 L471.77 466.88 L473.2 468.5 L473.2 470.88 L471.77 472.5 L468.93 472.5 L467.5 470.88M477.5 466.02 L477.5 476.6M477.5 466.02 L482.54 466.02 L483.2 466.78 L483.2 471.74 L482.54 472.5 L477.5 472.5M487.98 466.02 L492.25 466.02 L493.2 467.1 L493.2 472.5M493.2 468.72 L488.45 468.72 L487.5 469.69 L487.5 471.53 L488.45 472.5 L493.2 472.5M498.5 472.5 L498.5 466.02M498.5 466.78 L499.17 466.02 L503.54 466.02 L504.2 466.78 L504.2 472.5M518.5 461.7 L518.5 468.18 L525.72 468.18M523.44 463.64 L523.44 472.5M529.26 472.5 L528.5 471.64 L528.5 462.56 L529.26 461.7 L533.44 461.7 L534.2 462.56 L534.2 471.64 L533.44 472.5 L529.26 472.5M528.6 472.61 L534.11 461.59M550.26 472.5 L549.5 471.64 L549.5 462.56 L550.26 461.7 L554.44 461.7 L555.2 462.56 L555.2 471.64 L554.44 472.5 L550.26 472.5M549.6 472.61 L555.11 461.59M560.26 472.5 L559.5 471.64 L559.5 462.56 L560.26 461.7 L564.44 461.7 L565.2 462.56 L565.2 471.64 L564.44 472.5 L560.26 472.5M559.6 472.61 L565.11 461.59M571.26 472.5 L570.5 471.64 L570.5 462.56 L571.26 461.7 L575.44 461.7 L576.2 462.56 L576.2 471.64 L575.44 472.5 L571.26 472.5M570.6 472.61 L576.11 461.59M590.5 472.5 L590.5 461.7 L593.35 467.1 L596.2 461.7 L596.2 472.5M601.5 472.5 L601.5 461.7M607.2 472.5 L607.2 461.7M601.5 466.88 L607.2 466.88M611.5 466.02 L617.2 466.02 L611.5 472.5 L617.2 472.5"/>
<path class="f" d="M541.35 470.96h2v2h-2z"/>
<text class="h" x="44.4" y="510.2" textLength="175.1" xml:space="preserve">1:MkrΔ(MHz)    dB</text>
<path class="t" d="M46.92 500.86 L48.83 498.7 L48.83 509.5M46.92 509.5 L50.73 509.5M57.02 509.99 L59.21 509.99 L59.21 507.72 L57.02 507.72 L57.02 509.99M57.02 502.86 L59.21 502.86 L59.21 500.59 L57.02 500.59 L57.02 502.86M66.5 509.5 L66.5 498.7 L69.35 504.1 L72.2 498.7 L72.2 509.5M76.5 498.7 L76.5 509.5M81.25 501.94 L76.5 506.26M78.4 504.53 L82.2 509.5M87.5 503.02 L87.5 509.5M87.5 505.83 L88.83 503.99 L90.35 503.02 L92.25 503.02 L93.2 503.88M99.4 509.5 L103.2 498.16 L107 509.5 L99.4 509.5M111.78 498.7 L109.4 501.4 L109.4 506.8 L111.78 509.5M118.5 509.5 L118.5 498.7 L121.35 504.1 L124.2 498.7 L124.2 509.5M128.5 509.5 L128.5 498.7M134.2 509.5 L134.2 498.7M128.5 503.88 L134.2 503.88M138.5 503.02 L144.2 503.02 L138.5 509.5 L144.2 509.5M149.93 498.7 L152.3 501.4 L152.3 506.8 L149.93 509.5M206.2 498.7 L206.2 509.5M206.2 503.02 L201.16 503.02 L200.5 503.78 L200.5 508.74 L201.16 509.5 L206.2 509.5M210.5 498.7 L214.78 498.7 L216.2 500.1 L216.2 502.48 L214.78 503.88 L211.45 503.88M214.78 503.88 L216.2 505.4 L216.2 507.99 L214.78 509.5 L210.5 509.5M211.45 509.5 L211.45 498.7"/>
<text class="h" x="44.4" y="528.8" textLength="195.7" xml:space="preserve">1&gt;    0.00     0.00</text>
<path class="t" d="M46.92 519.86 L48.83 517.7 L48.83 528.5M46.92 528.5 L50.73 528.5M57.16 519.64 L61.25 523.21 L57.16 526.77M108.26 528.5 L107.5 527.64 L107.5 518.56 L108.26 517.7 L112.44 517.7 L113.2 518.56 L113.2 527.64 L112.44 528.5 L108.26 528.5M107.59 528.61 L113.11 517.59M129.26 528.5 L128.5 527.64 L128.5 518.56 L129.26 517.7 L133.44 517.7 L134.2 518.56 L134.2 527.64 L133.44 528.5 L129.26 528.5M128.59 528.61 L134.1 517.59M139.26 528.5 L138.5 527.64 L138.5 518.56 L139.26 517.7 L143.44 517.7 L144.2 518.56 L144.2 527.64 L143.44 528.5 L139.26 528.5M138.59 528.61 L144.1 517.59M201.26 528.5 L200.5 527.64 L200.5 518.56 L201.26 517.7 L205.44 517.7 L206.2 518.56 L206.2 527.64 L205.44 528.5 L201.26 528.5M200.59 528.61 L206.1 517.59M222.26 528.5 L221.5 527.64 L221.5 518.56 L222.26 517.7 L226.44 517.7 L227.2 518.56 L227.2 527.64 L226.44 528.5 L222.26 528.5M221.59 528.61 L227.1 517.59M232.26 528.5 L231.5 527.64 L231.5 518.56 L232.26 517.7 L236.44 517.7 L237.2 518.56 L237.2 527.64 L236.44 528.5 L232.26 528.5M231.59 528.61 L237.1 517.59"/>
<path class="f" d="M120.35 526.96h2v2h-2zM212.35 526.96h2v2h-2z"/>
<text class="h" x="44.4" y="564.8" textLength="195.7" xml:space="preserve">3:    0.10    -0.01</text>
<path class="t" d="M46.26 553.7 L51.2 553.7 L48.35 558.24 L49.87 558.24 L51.2 559.75 L51.2 562.99 L49.87 564.5 L47.4 564.5 L46.26 563.2M57.02 564.99 L59.21 564.99 L59.21 562.72 L57.02 562.72 L57.02 564.99M57.02 557.86 L59.21 557.86 L59.21 555.59 L57.02 555.59 L57.02 557.86M108.26 564.5 L107.5 563.64 L107.5 554.56 L108.26 553.7 L112.44 553.7 L113.2 554.56 L113.2 563.64 L112.44 564.5 L108.26 564.5M107.59 564.61 L113.11 553.59M129.93 555.86 L131.82 553.7 L131.82 564.5M129.93 564.5 L133.72 564.5M139.26 564.5 L138.5 563.64 L138.5 554.56 L139.26 553.7 L143.44 553.7 L144.2 554.56 L144.2 563.64 L143.44 564.5 L139.26 564.5M138.59 564.61 L144.1 553.59M190.5 559.1 L196.39 559.1M201.26 564.5 L200.5 563.64 L200.5 554.56 L201.26 553.7 L205.44 553.7 L206.2 554.56 L206.2 563.64 L205.44 564.5 L201.26 564.5M200.59 564.61 L206.1 553.59M222.26 564.5 L221.5 563.64 L221.5 554.56 L222.26 553.7 L226.44 553.7 L227.2 554.56 L227.2 563.64 L226.44 564.5 L222.26 564.5M221.59 564.61 L227.1 553.59M232.93 555.86 L234.82 553.7 L234.82 564.5M232.93 564.5 L236.72 564.5"/>
<path class="f" d="M120.35 562.96h2v2h-2zM212.35 562.96h2v2h-2z"/>
<text class="h" x="44.4" y="600.8" textLength="195.7" xml:space="preserve">5:   -4.46   -30.00</text>
<path class="t" d="M51.2 589.7 L45.5 589.7 L45.5 594.24 L49.77 594.24 L51.2 595.86 L51.2 598.88 L49.77 600.5 L46.64 600.5 L45.5 599.42M57.02 600.99 L59.21 600.99 L59.21 598.72 L57.02 598.72 L57.02 600.99M57.02 593.86 L59.21 593.86 L59.21 591.59 L57.02 591.59 L57.02 593.86M97.5 595.1 L103.39 595.1M107.5 589.7 L107.5 596.18 L114.72 596.18M112.44 591.64 L112.44 600.5M128.5 589.7 L128.5 596.18 L135.72 596.18M133.44 591.64 L133.44 600.5M143.25 589.7 L141.35 589.7 L139.45 591.32 L138.5 594.02 L138.5 598.88 L139.93 600.5 L142.78 600.5 L144.2 598.88 L144.2 595.64 L142.78 594.02 L138.5 594.02M179.5 595.1 L185.39 595.1M191.26 589.7 L196.2 589.7 L193.35 594.24 L194.87 594.24 L196.2 595.75 L196.2 598.99 L194.87 600.5 L192.4 600.5 L191.26 599.2M201.26 600.5 L200.5 599.64 L200.5 590.56 L201.26 589.7 L205.44 589.7 L206.2 590.56 L206.2 599.64 L205.44 600.5 L201.26 600.5M200.59 600.61 L206.1 589.59M222.26 600.5 L221.5 599.64 L221.5 590.56 L222.26 589.7 L226.44 589.7 L227.2 590.56 L227.2 599.64 L226.44 600.5 L222.26 600.5M221.59 600.61 L227.1 589.59M232.26 600.5 L231.5 599.64 L231.5 590.56 L232.26 589.7 L236.44 589.7 L237.2 590.56 L237.2 599.64 L236.44 600.5 L232.26 600.5M231.59 600.61 L237.1 589.59"/>
<path class="f" d="M120.35 598.96h2v2h-2zM212.35 598.96h2v2h-2z"/>
<text class="h" x="44.4" y="618.8" textLength="195.7" xml:space="preserve">6:    4.66   -30.00</text>
<path class="t" d="M50.25 607.7 L48.35 607.7 L46.45 609.32 L45.5 612.02 L45.5 616.88 L46.92 618.5 L49.77 618.5 L51.2 616.88 L51.2 613.64 L49.77 612.02 L45.5 612.02M57.02 618.99 L59.21 618.99 L59.21 616.72 L57.02 616.72 L57.02 618.99M57.02 611.86 L59.21 611.86 L59.21 609.59 L57.02 609.59 L57.02 611.86M107.5 607.7 L107.5 614.18 L114.72 614.18M112.44 609.64 L112.44 618.5M133.25 607.7 L131.35 607.7 L129.45 609.32 L128.5 612.02 L128.5 616.88 L129.93 618.5 L132.78 618.5 L134.2 616.88 L134.2 613.64 L132.78 612.02 L128.5 612.02M143.25 607.7 L141.35 607.7 L139.45 609.32 L138.5 612.02 L138.5 616.88 L139.93 618.5 L142.78 618.5 L144.2 616.88 L144.2 613.64 L142.78 612.02 L138.5 612.02M179.5 613.1 L185.39 613.1M191.26 607.7 L196.2 607.7 L193.35 612.24 L194.87 612.24 L196.2 613.75 L196.2 616.99 L194.87 618.5 L192.4 618.5 L191.26 617.2M201.26 618.5 L200.5 617.64 L200.5 608.56 L201.26 607.7 L205.44 607.7 L206.2 608.56 L206.2 617.64 L205.44 618.5 L201.26 618.5M200.59 618.61 L206.1 607.59M222.26 618.5 L221.5 617.64 L221.5 608.56 L222.26 607.7 L226.44 607.7 L227.2 608.56 L227.2 617.64 L226.44 618.5 L222.26 618.5M221.59 618.61 L227.1 607.59M232.26 618.5 L231.5 617.64 L231.5 608.56 L232.26 607.7 L236.44 607.7 L237.2 608.56 L237.2 617.64 L236.44 618.5 L232.26 618.5M231.59 618.61 L237.1 607.59"/>
<path class="f" d="M120.35 616.96h2v2h-2zM212.35 616.96h2v2h-2z"/>
<text class="h" x="327.6" y="510.2" textLength="175.1" xml:space="preserve">2:Mkr (MHz)    dB</text>
<path class="t" d="M329.5 500.32 L330.93 498.7 L333.77 498.7 L335.2 500.32 L335.2 502.48 L329.5 509.5 L335.2 509.5M340.02 509.99 L342.21 509.99 L342.21 507.72 L340.02 507.72 L340.02 509.99M340.02 502.86 L342.21 502.86 L342.21 500.59 L340.02 500.59 L340.02 502.86M349.5 509.5 L349.5 498.7 L352.35 504.1 L355.2 498.7 L355.2 509.5M360.5 498.7 L360.5 509.5M365.25 501.94 L360.5 506.26M362.4 504.53 L366.2 509.5M370.5 503.02 L370.5 509.5M370.5 505.83 L371.83 503.99 L373.35 503.02 L375.25 503.02 L376.2 503.88M394.77 498.7 L392.4 501.4 L392.4 506.8 L394.77 509.5M401.5 509.5 L401.5 498.7 L404.35 504.1 L407.2 498.7 L407.2 509.5M411.5 509.5 L411.5 498.7M417.2 509.5 L417.2 498.7M411.5 503.88 L417.2 503.88M421.5 503.02 L427.2 503.02 L421.5 509.5 L427.2 509.5M433.93 498.7 L436.3 501.4 L436.3 506.8 L433.93 509.5M489.2 498.7 L489.2 509.5M489.2 503.02 L484.17 503.02 L483.5 503.78 L483.5 508.74 L484.17 509.5 L489.2 509.5M493.5 498.7 L497.77 498.7 L499.2 500.1 L499.2 502.48 L497.77 503.88 L494.45 503.88M497.77 503.88 L499.2 505.4 L499.2 507.99 L497.77 509.5 L493.5 509.5M494.45 509.5 L494.45 498.7"/>
<text class="h" x="327.6" y="528.8" textLength="195.7" xml:space="preserve">1:  430.90   -28.44</text>
<path class="t" d="M330.93 519.86 L332.82 517.7 L332.82 528.5M330.93 528.5 L334.73 528.5M340.02 528.99 L342.21 528.99 L342.21 526.72 L340.02 526.72 L340.02 528.99M340.02 521.86 L342.21 521.86 L342.21 519.59 L340.02 519.59 L340.02 521.86M370.5 517.7 L370.5 524.18 L377.72 524.18M375.44 519.64 L375.44 528.5M381.26 517.7 L386.2 517.7 L383.35 522.24 L384.87 522.24 L386.2 523.75 L386.2 526.99 L384.87 528.5 L382.4 528.5 L381.26 527.2M391.26 528.5 L390.5 527.64 L390.5 518.56 L391.26 517.7 L395.44 517.7 L396.2 518.56 L396.2 527.64 L395.44 528.5 L391.26 528.5M390.6 528.61 L396.11 517.59M417.2 522.56 L415.77 523.96 L412.93 523.96 L411.5 522.34 L411.5 519.32 L412.93 517.7 L415.77 517.7 L417.2 519.32 L417.2 524.18 L416.25 526.88 L414.82 528.5 L413.88 528.5M422.26 528.5 L421.5 527.64 L421.5 518.56 L422.26 517.7 L426.44 517.7 L427.2 518.56 L427.2 527.64 L426.44 528.5 L422.26 528.5M421.6 528.61 L427.11 517.59M462.5 523.1 L468.39 523.1M473.5 519.32 L474.93 517.7 L477.77 517.7 L479.2 519.32 L479.2 521.48 L473.5 528.5 L479.2 528.5M485.12 522.56 L483.98 521.16 L483.98 519.1 L485.12 517.7 L487.58 517.7 L488.73 519.1 L488.73 521.16 L487.58 522.56 L485.12 522.56 L483.5 524.18 L483.5 526.88 L484.93 528.5 L487.77 528.5 L489.2 526.88 L489.2 524.18 L487.58 522.56M504.5 517.7 L504.5 524.18 L511.72 524.18M509.44 519.64 L509.44 528.5M514.5 517.7 L514.5 524.18 L521.72 524.18M519.44 519.64 L519.44 528.5"/>
<path class="f" d="M403.35 526.96h2v2h-2zM495.35 526.96h2v2h-2z"/>
<text class="h" x="327.6" y="546.8" textLength="195.7" xml:space="preserve">2&gt;  438.00    -0.18</text>
<path class="t" d="M329.5 537.32 L330.93 535.7 L333.77 535.7 L335.2 537.32 L335.2 539.48 L329.5 546.5 L335.2 546.5M340.17 537.64 L344.25 541.21 L340.17 544.77M370.5 535.7 L370.5 542.18 L377.72 542.18M375.44 537.64 L375.44 546.5M381.26 535.7 L386.2 535.7 L383.35 540.24 L384.87 540.24 L386.2 541.75 L386.2 544.99 L384.87 546.5 L382.4 546.5 L381.26 545.2M392.12 540.56 L390.98 539.16 L390.98 537.1 L392.12 535.7 L394.58 535.7 L395.73 537.1 L395.73 539.16 L394.58 540.56 L392.12 540.56 L390.5 542.18 L390.5 544.88 L391.93 546.5 L394.77 546.5 L396.2 544.88 L396.2 542.18 L394.58 540.56M412.26 546.5 L411.5 545.64 L411.5 536.56 L412.26 535.7 L416.44 535.7 L417.2 536.56 L417.2 545.64 L416.44 546.5 L412.26 546.5M411.6 546.61 L417.11 535.59M422.26 546.5 L421.5 545.64 L421.5 536.56 L422.26 535.7 L426.44 535.7 L427.2 536.56 L427.2 545.64 L426.44 546.5 L422.26 546.5M421.6 546.61 L427.11 535.59M473.5 541.1 L479.39 541.1M484.26 546.5 L483.5 545.64 L483.5 536.56 L484.26 535.7 L488.44 535.7 L489.2 536.56 L489.2 545.64 L488.44 546.5 L484.26 546.5M483.6 546.61 L489.11 535.59M505.93 537.86 L507.82 535.7 L507.82 546.5M505.93 546.5 L509.73 546.5M516.12 540.56 L514.98 539.16 L514.98 537.1 L516.12 535.7 L518.59 535.7 L519.73 537.1 L519.73 539.16 L518.59 540.56 L516.12 540.56 L514.5 542.18 L514.5 544.88 L515.92 546.5 L518.77 546.5 L520.2 544.88 L520.2 542.18 L518.59 540.56"/>
<path class="f" d="M403.35 544.96h2v2h-2zM495.35 544.96h2v2h-2z"/>
<text class="h" x="327.6" y="564.8" textLength="195.7" xml:space="preserve">3:  428.49   -23.99</text>
<path class="t" d="M330.26 553.7 L335.2 553.7 L332.35 558.24 L333.87 558.24 L335.2 559.75 L335.2 562.99 L333.87 564.5 L331.4 564.5 L330.26 563.2M340.02 564.99 L342.21 564.99 L342.21 562.72 L340.02 562.72 L340.02 564.99M340.02 557.86 L342.21 557.86 L342.21 555.59 L340.02 555.59 L340.02 557.86M370.5 553.7 L370.5 560.18 L377.72 560.18M375.44 555.64 L375.44 564.5M380.5 555.32 L381.93 553.7 L384.77 553.7 L386.2 555.32 L386.2 557.48 L380.5 564.5 L386.2 564.5M392.12 558.56 L390.98 557.16 L390.98 555.1 L392.12 553.7 L394.58 553.7 L395.73 555.1 L395.73 557.16 L394.58 558.56 L392.12 558.56 L390.5 560.18 L390.5 562.88 L391.93 564.5 L394.77 564.5 L396.2 562.88 L396.2 560.18 L394.58 558.56M411.5 553.7 L411.5 560.18 L418.72 560.18M416.44 555.64 L416.44 564.5M427.2 558.56 L425.77 559.96 L422.93 559.96 L421.5 558.34 L421.5 555.32 L422.93 553.7 L425.77 553.7 L427.2 555.32 L427.2 560.18 L426.25 562.88 L424.82 564.5 L423.88 564.5M462.5 559.1 L468.39 559.1M473.5 555.32 L474.93 553.7 L477.77 553.7 L479.2 555.32 L479.2 557.48 L473.5 564.5 L479.2 564.5M484.26 553.7 L489.2 553.7 L486.35 558.24 L487.87 558.24 L489.2 559.75 L489.2 562.99 L487.87 564.5 L485.4 564.5 L484.26 563.2M510.2 558.56 L508.77 559.96 L505.93 559.96 L504.5 558.34 L504.5 555.32 L505.93 553.7 L508.77 553.7 L510.2 555.32 L510.2 560.18 L509.25 562.88 L507.82 564.5 L506.88 564.5M520.2 558.56 L518.77 559.96 L515.92 559.96 L514.5 558.34 L514.5 555.32 L515.92 553.7 L518.77 553.7 L520.2 555.32 L520.2 560.18 L519.25 562.88 L517.83 564.5 L516.88 564.5"/>
<path class="f" d="M403.35 562.96h2v2h-2zM495.35 562.96h2v2h-2z"/>
<text class="h" x="327.6" y="582.8" textLength="195.7" xml:space="preserve">4:  434.07   -32.13</text>
<path class="t" d="M329.5 571.7 L329.5 578.18 L336.72 578.18M334.44 573.64 L334.44 582.5M340.02 582.99 L342.21 582.99 L342.21 580.72 L340.02 580.72 L340.02 582.99M340.02 575.86 L342.21 575.86 L342.21 573.59 L340.02 573.59 L340.02 575.86M370.5 571.7 L370.5 578.18 L377.72 578.18M375.44 573.64 L375.44 582.5M381.26 571.7 L386.2 571.7 L383.35 576.24 L384.87 576.24 L386.2 577.75 L386.2 580.99 L384.87 582.5 L382.4 582.5 L381.26 581.2M390.5 571.7 L390.5 578.18 L397.72 578.18M395.44 573.64 L395.44 582.5M412.26 582.5 L411.5 581.64 L411.5 572.56 L412.26 571.7 L416.44 571.7 L417.2 572.56 L417.2 581.64 L416.44 582.5 L412.26 582.5M411.6 582.61 L417.11 571.59M421.5 571.7 L427.2 571.7 L423.4 582.5M462.5 577.1 L468.39 577.1M474.26 571.7 L479.2 571.7 L476.35 576.24 L477.87 576.24 L479.2 577.75 L479.2 580.99 L477.87 582.5 L475.4 582.5 L474.26 581.2M483.5 573.32 L484.93 571.7 L487.77 571.7 L489.2 573.32 L489.2 575.48 L483.5 582.5 L489.2 582.5M505.93 573.86 L507.82 571.7 L507.82 582.5M505.93 582.5 L509.73 582.5M515.26 571.7 L520.2 571.7 L517.35 576.24 L518.87 576.24 L520.2 577.75 L520.2 580.99 L518.87 582.5 L516.4 582.5 L515.26 581.2"/>
<path class="f" d="M403.35 580.96h2v2h-2zM495.35 580.96h2v2h-2z"/>
<text class="h" x="327.6" y="600.8" textLength="195.7" xml:space="preserve">5:  426.44    -0.64</text>
<path class="t" d="M335.2 589.7 L329.5 589.7 L329.5 594.24 L333.77 594.24 L335.2 595.86 L335.2 598.88 L333.77 600.5 L330.64 600.5 L329.5 599.42M340.02 600.99 L342.21 600.99 L342.21 598.72 L340.02 598.72 L340.02 600.99M340.02 593.86 L342.21 593.86 L342.21 591.59 L340.02 591.59 L340.02 593.86M370.5 589.7 L370.5 596.18 L377.72 596.18M375.44 591.64 L375.44 600.5M380.5 591.32 L381.93 589.7 L384.77 589.7 L386.2 591.32 L386.2 593.48 L380.5 600.5 L386.2 600.5M395.25 589.7 L393.35 589.7 L391.45 591.32 L390.5 594.02 L390.5 598.88 L391.93 600.5 L394.77 600.5 L396.2 598.88 L396.2 595.64 L394.77 594.02 L390.5 594.02M411.5 589.7 L411.5 596.18 L418.72 596.18M416.44 591.64 L416.44 600.5M421.5 589.7 L421.5 596.18 L428.72 596.18M426.44 591.64 L426.44 600.5M473.5 595.1 L479.39 595.1M484.26 600.5 L483.5 599.64 L483.5 590.56 L484.26 589.7 L488.44 589.7 L489.2 590.56 L489.2 599.64 L488.44 600.5 L484.26 600.5M483.6 600.61 L489.11 589.59M509.25 589.7 L507.35 589.7 L505.45 591.32 L504.5 594.02 L504.5 598.88 L505.93 600.5 L508.77 600.5 L510.2 598.88 L510.2 595.64 L508.77 594.02 L504.5 594.02M514.5 589.7 L514.5 596.18 L521.72 596.18M519.44 591.64 L519.44 600.5"/>
<path class="f" d="M403.35 598.96h2v2h-2zM495.35 598.96h2v2h-2z"/>
<text class="h" x="327.6" y="618.8" textLength="195.7" xml:space="preserve">6:  435.56    -0.78</text>
<path class="t" d="M334.25 607.7 L332.35 607.7 L330.45 609.32 L329.5 612.02 L329.5 616.88 L330.93 618.5 L333.77 618.5 L335.2 616.88 L335.2 613.64 L333.77 612.02 L329.5 612.02M340.02 618.99 L342.21 618.99 L342.21 616.72 L340.02 616.72 L340.02 618.99M340.02 611.86 L342.21 611.86 L342.21 609.59 L340.02 609.59 L340.02 611.86M370.5 607.7 L370.5 614.18 L377.72 614.18M375.44 609.64 L375.44 618.5M381.26 607.7 L386.2 607.7 L383.35 612.24 L384.87 612.24 L386.2 613.75 L386.2 616.99 L384.87 618.5 L382.4 618.5 L381.26 617.2M396.2 607.7 L390.5 607.7 L390.5 612.24 L394.77 612.24 L396.2 613.86 L396.2 616.88 L394.77 618.5 L391.64 618.5 L390.5 617.42M417.2 607.7 L411.5 607.7 L411.5 612.24 L415.77 612.24 L417.2 613.86 L417.2 616.88 L415.77 618.5 L412.64 618.5 L411.5 617.42M426.25 607.7 L424.35 607.7 L422.45 609.32 L421.5 612.02 L421.5 616.88 L422.93 618.5 L425.77 618.5 L427.2 616.88 L427.2 613.64 L425.77 612.02 L421.5 612.02M473.5 613.1 L479.39 613.1M484.26 618.5 L483.5 617.64 L483.5 608.56 L484.26 607.7 L488.44 607.7 L489.2 608.56 L489.2 617.64 L488.44 618.5 L484.26 618.5M483.6 618.61 L489.11 607.59M504.5 607.7 L510.2 607.7 L506.4 618.5M516.12 612.56 L514.98 611.16 L514.98 609.1 L516.12 607.7 L518.59 607.7 L519.73 609.1 L519.73 611.16 L518.59 612.56 L516.12 612.56 L514.5 614.18 L514.5 616.88 L515.92 618.5 L518.77 618.5 L520.2 616.88 L520.2 614.18 L518.59 612.56"/>
<path class="f" d="M403.35 616.96h2v2h-2zM495.35 616.96h2v2h-2z"/>
</g>
</svg>
</body></html>
